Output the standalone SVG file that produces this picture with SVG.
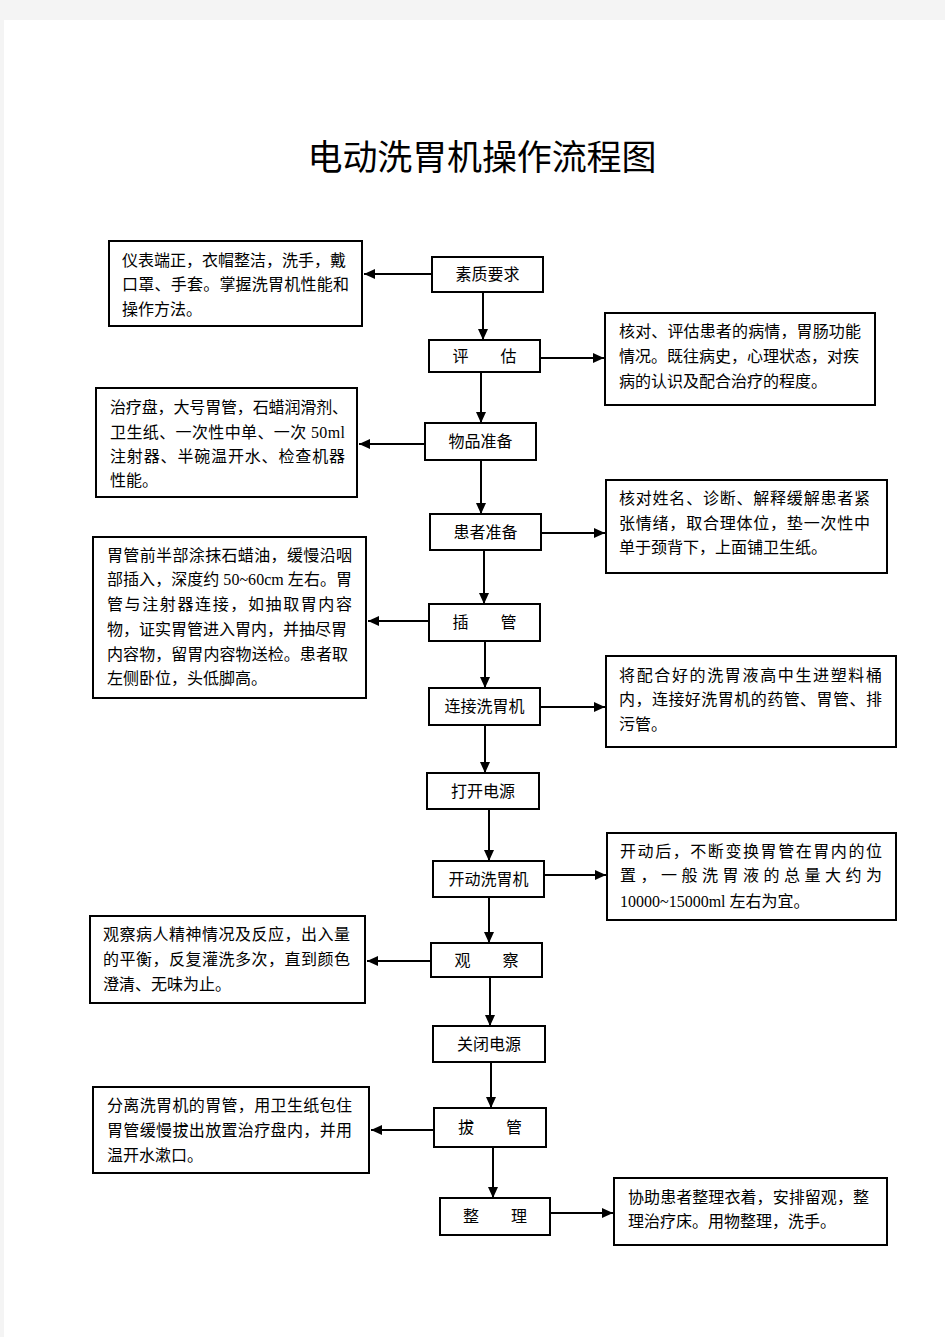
<svg xmlns="http://www.w3.org/2000/svg" width="945" height="1337" viewBox="0 0 945 1337">
<style>
.box{fill:#fff;stroke:#000;stroke-width:2}
.t{font-family:"Liberation Serif","Noto Sans CJK SC",serif;font-size:16px;fill:#000}
.c{text-anchor:middle}
.ln{stroke:#000;stroke-width:2;fill:none;marker-end:url(#ah)}
.title{font-family:"Liberation Serif","Noto Sans CJK SC",serif;font-size:35px;fill:#000;text-anchor:middle}
</style>
<defs>
<marker id="ah" markerUnits="userSpaceOnUse" markerWidth="12" markerHeight="10" refX="11" refY="5" orient="auto">
<path d="M0,0 L11,5 L0,10 Z" fill="#000"/>
</marker>
</defs>
<rect x="0" y="0" width="945" height="1337" fill="#f4f4f4"/>
<rect x="4" y="20" width="941" height="1317" fill="#fff"/>
<text class="title" x="482" y="170" textLength="349" lengthAdjust="spacing">电动洗胃机操作流程图</text>

<g id="connectors">
<line class="ln" x1="483" y1="293" x2="483" y2="340"/>
<line class="ln" x1="481" y1="373" x2="481" y2="423"/>
<line class="ln" x1="481" y1="461" x2="481" y2="514"/>
<line class="ln" x1="484" y1="551" x2="484" y2="604"/>
<line class="ln" x1="485" y1="642" x2="485" y2="688"/>
<line class="ln" x1="485" y1="726" x2="485" y2="773"/>
<line class="ln" x1="489" y1="810" x2="489" y2="861"/>
<line class="ln" x1="489" y1="898" x2="489" y2="943"/>
<line class="ln" x1="490" y1="978" x2="490" y2="1026"/>
<line class="ln" x1="491" y1="1063" x2="491" y2="1108"/>
<line class="ln" x1="493" y1="1148" x2="493" y2="1198"/>
<line class="ln" x1="431" y1="274" x2="364" y2="274"/>
<line class="ln" x1="541" y1="358" x2="604" y2="358"/>
<line class="ln" x1="424" y1="444" x2="359" y2="444"/>
<line class="ln" x1="542" y1="533" x2="605" y2="533"/>
<line class="ln" x1="428" y1="621" x2="368" y2="621"/>
<line class="ln" x1="541" y1="707" x2="605" y2="707"/>
<line class="ln" x1="545" y1="875" x2="606" y2="875"/>
<line class="ln" x1="430" y1="961" x2="367" y2="961"/>
<line class="ln" x1="433" y1="1130" x2="371" y2="1130"/>
<line class="ln" x1="551" y1="1213" x2="613" y2="1213"/>
</g>

<g id="n1"><rect class="box" x="432" y="257" width="111" height="35"/><text class="t c" x="487.5" y="280">素质要求</text></g>
<g id="n2"><rect class="box" x="429" y="340" width="111" height="32"/><text class="t c" x="484.5" y="362">评　　估</text></g>
<g id="n3"><rect class="box" x="425" y="423" width="111" height="37"/><text class="t c" x="480.5" y="447">物品准备</text></g>
<g id="n4"><rect class="box" x="430" y="514" width="111" height="36"/><text class="t c" x="485.5" y="538">患者准备</text></g>
<g id="n5"><rect class="box" x="429" y="604" width="111" height="37"/><text class="t c" x="484.5" y="628">插　　管</text></g>
<g id="n6"><rect class="box" x="429" y="688" width="111" height="37"/><text class="t c" x="484.5" y="712">连接洗胃机</text></g>
<g id="n7"><rect class="box" x="427" y="773" width="112" height="36"/><text class="t c" x="483" y="797">打开电源</text></g>
<g id="n8"><rect class="box" x="433" y="861" width="111" height="36"/><text class="t c" x="488.5" y="885">开动洗胃机</text></g>
<g id="n9"><rect class="box" x="431" y="943" width="111" height="34"/><text class="t c" x="486.5" y="966">观　　察</text></g>
<g id="n10"><rect class="box" x="433" y="1026" width="112" height="36"/><text class="t c" x="489" y="1050">关闭电源</text></g>
<g id="n11"><rect class="box" x="434" y="1108" width="112" height="39"/><text class="t c" x="490" y="1133">拔　　管</text></g>
<g id="n12"><rect class="box" x="440" y="1198" width="110" height="37"/><text class="t c" x="495" y="1222">整　　理</text></g>

<g id="d1"><rect class="box" x="109" y="241" width="253" height="85"/>
<text class="t" x="122" y="266">仪表端正，衣帽整洁，洗手，戴</text>
<text class="t" x="122" y="290" textLength="227" lengthAdjust="spacing">口罩、手套。掌握洗胃机性能和</text>
<text class="t" x="122" y="315">操作方法。</text></g>

<g id="d2"><rect class="box" x="605" y="313" width="270" height="92"/>
<text class="t" x="619" y="337" textLength="242" lengthAdjust="spacing">核对、评估患者的病情，胃肠功能</text>
<text class="t" x="619" y="362" textLength="240" lengthAdjust="spacing">情况。既往病史，心理状态，对疾</text>
<text class="t" x="619" y="387">病的认识及配合治疗的程度。</text></g>

<g id="d3"><rect class="box" x="96" y="388" width="261" height="109"/>
<text class="t" x="110" y="413" textLength="238" lengthAdjust="spacing">治疗盘，大号胃管，石蜡润滑剂、</text>
<text class="t" x="110" y="438" textLength="235" lengthAdjust="spacing">卫生纸、一次性中单、一次 50ml</text>
<text class="t" x="110" y="462" textLength="235" lengthAdjust="spacing">注射器、半碗温开水、检查机器</text>
<text class="t" x="110" y="486">性能。</text></g>

<g id="d4"><rect class="box" x="606" y="480" width="281" height="93"/>
<text class="t" x="619" y="504" textLength="251" lengthAdjust="spacing">核对姓名、诊断、解释缓解患者紧</text>
<text class="t" x="619" y="529" textLength="251" lengthAdjust="spacing">张情绪，取合理体位，垫一次性中</text>
<text class="t" x="619" y="553">单于颈背下，上面铺卫生纸。</text></g>

<g id="d5"><rect class="box" x="93" y="537" width="273" height="161"/>
<text class="t" x="107" y="561" textLength="245" lengthAdjust="spacing">胃管前半部涂抹石蜡油，缓慢沿咽</text>
<text class="t" x="107" y="585" textLength="245" lengthAdjust="spacing">部插入，深度约 50~60cm 左右。胃</text>
<text class="t" x="107" y="610" textLength="245" lengthAdjust="spacing">管与注射器连接，如抽取胃内容</text>
<text class="t" x="107" y="635" textLength="240" lengthAdjust="spacing">物，证实胃管进入胃内，并抽尽胃</text>
<text class="t" x="107" y="660" textLength="241" lengthAdjust="spacing">内容物，留胃内容物送检。患者取</text>
<text class="t" x="107" y="684">左侧卧位，头低脚高。</text></g>

<g id="d6"><rect class="box" x="606" y="656" width="290" height="91"/>
<text class="t" x="619" y="681" textLength="263" lengthAdjust="spacing">将配合好的洗胃液高中生进塑料桶</text>
<text class="t" x="619" y="705" textLength="263" lengthAdjust="spacing">内，连接好洗胃机的药管、胃管、排</text>
<text class="t" x="619" y="730">污管。</text></g>

<g id="d8"><rect class="box" x="607" y="833" width="289" height="87"/>
<text class="t" x="620" y="857" textLength="262" lengthAdjust="spacing">开动后，不断变换胃管在胃内的位</text>
<text class="t" x="620" y="881" textLength="262" lengthAdjust="spacing">置，一般洗胃液的总量大约为</text>
<text class="t" x="620" y="907">10000~15000ml 左右为宜。</text></g>

<g id="d9"><rect class="box" x="90" y="916" width="275" height="87"/>
<text class="t" x="103" y="940" textLength="247" lengthAdjust="spacing">观察病人精神情况及反应，出入量</text>
<text class="t" x="103" y="965" textLength="247" lengthAdjust="spacing">的平衡，反复灌洗多次，直到颜色</text>
<text class="t" x="103" y="990">澄清、无味为止。</text></g>

<g id="d11"><rect class="box" x="93" y="1087" width="276" height="86"/>
<text class="t" x="107" y="1111" textLength="245" lengthAdjust="spacing">分离洗胃机的胃管，用卫生纸包住</text>
<text class="t" x="107" y="1136" textLength="245" lengthAdjust="spacing">胃管缓慢拔出放置治疗盘内，并用</text>
<text class="t" x="107" y="1161">温开水漱口。</text></g>

<g id="d12"><rect class="box" x="614" y="1178" width="273" height="67"/>
<text class="t" x="628" y="1203" textLength="241" lengthAdjust="spacing">协助患者整理衣着，安排留观，整</text>
<text class="t" x="628" y="1227">理治疗床。用物整理，洗手。</text></g>
</svg>
